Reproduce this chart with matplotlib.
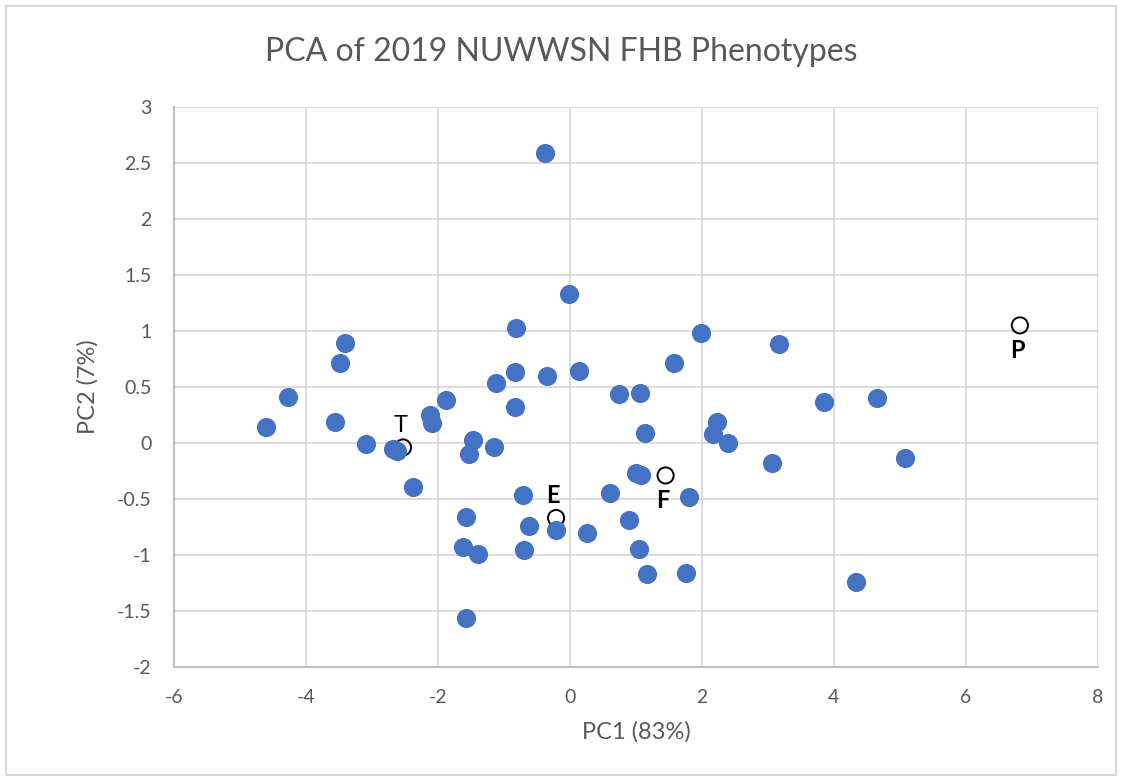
import numpy as np
import matplotlib
matplotlib.use("Agg")
import matplotlib.pyplot as plt
from matplotlib.patches import Rectangle

plt.rcParams['font.family'] = ['Lato', 'DejaVu Sans']
plt.rcParams['axes.unicode_minus'] = False

# genotype scores (blue points)
pc1 = [-4.61, -4.27, -3.41, -3.48, -3.56, -3.09, -2.68, -2.62, -2.38, -2.12,
       -2.09, -1.88, -1.47, -1.53, -1.15, -1.12, -0.82, -0.83, -0.83, -0.35,
       -0.38, -0.02, 0.14, -1.58, -1.62, -1.39, -1.58, -0.71, -0.62, -0.70,
       -0.21, 0.26, 0.61, 0.74, 1.06, 1.14, 1.00, 1.07, 0.89, 1.05,
       1.17, 1.76, 1.80, 1.58, 1.98, 2.23, 2.17, 2.39, 3.06, 3.17,
       3.85, 4.65, 5.08, 4.33]
pc2 = [0.14, 0.41, 0.89, 0.71, 0.19, -0.01, -0.05, -0.07, -0.39, 0.25,
       0.18, 0.38, 0.03, -0.10, -0.04, 0.54, 1.03, 0.63, 0.32, 0.60,
       2.59, 1.33, 0.64, -0.66, -0.93, -0.99, -1.56, -0.46, -0.74, -0.96,
       -0.78, -0.80, -0.45, 0.44, 0.45, 0.09, -0.27, -0.29, -0.69, -0.95,
       -1.17, -1.16, -0.48, 0.71, 0.98, 0.19, 0.08, 0.00, -0.18, 0.88,
       0.37, 0.40, -0.13, -1.24]

# trait loadings (open circles)
trait_names = ['T', 'E', 'F', 'P']
trait_pc1 = [-2.53, -0.21, 1.45, 6.82]
trait_pc2 = [-0.04, -0.67, -0.29, 1.05]
label_above = [True, True, False, False]

grey = '#595959'

fig = plt.figure(figsize=(11.23, 7.81), dpi=100)
ax = fig.add_axes([0.155, 0.146, 0.8225, 0.717])

fig.patches.append(Rectangle((0.005, 0.008), 0.989, 0.984, transform=fig.transFigure,
                             fill=False, edgecolor='#d9d9d9', linewidth=1.5))

# open circles sit under the dots, like in the Excel chart
ax.scatter(trait_pc1, trait_pc2, s=135, facecolors='none', edgecolors='black',
           linewidths=1.4, zorder=2)
ax.scatter(pc1, pc2, s=190, color='#4472C4', zorder=3, linewidths=0)

for name, x, y, up in zip(trait_names, trait_pc1, trait_pc2, label_above):
    dy = 16 if up else -18
    ax.annotate(name, (x, y), xytext=(-2, dy),
                textcoords='offset points', ha='center', va='center',
                fontsize=17, fontweight='normal' if name == 'T' else 'bold',
                color='black', zorder=5)

ax.set_xlim(-6, 8)
ax.set_ylim(-2, 3)
ax.set_xticks(np.arange(-6, 8.1, 2))
yt = np.arange(-2, 3.01, 0.5)
ax.set_yticks(yt)
ax.set_yticklabels(['{:g}'.format(v) for v in yt])

ax.grid(True, color='#d9d9d9', linewidth=1.3)
ax.set_axisbelow(True)
for side in ['top', 'right']:
    ax.spines[side].set_visible(False)
for side in ['left', 'bottom']:
    ax.spines[side].set_color('#bfbfbf')
    ax.spines[side].set_linewidth(1.5)
ax.tick_params(length=0, labelsize=14, labelcolor=grey, pad=16)

ax.set_xlabel('PC1 (83%)', fontsize=17, color=grey, labelpad=11)
ax.set_ylabel('PC2 (7%)', fontsize=17, color=grey, labelpad=13)
fig.text(0.5, 0.933, 'PCA of 2019 NUWWSN FHB Phenotypes', ha='center', va='center',
         fontsize=23, color=grey)

fig.savefig('out.png', dpi=100)
